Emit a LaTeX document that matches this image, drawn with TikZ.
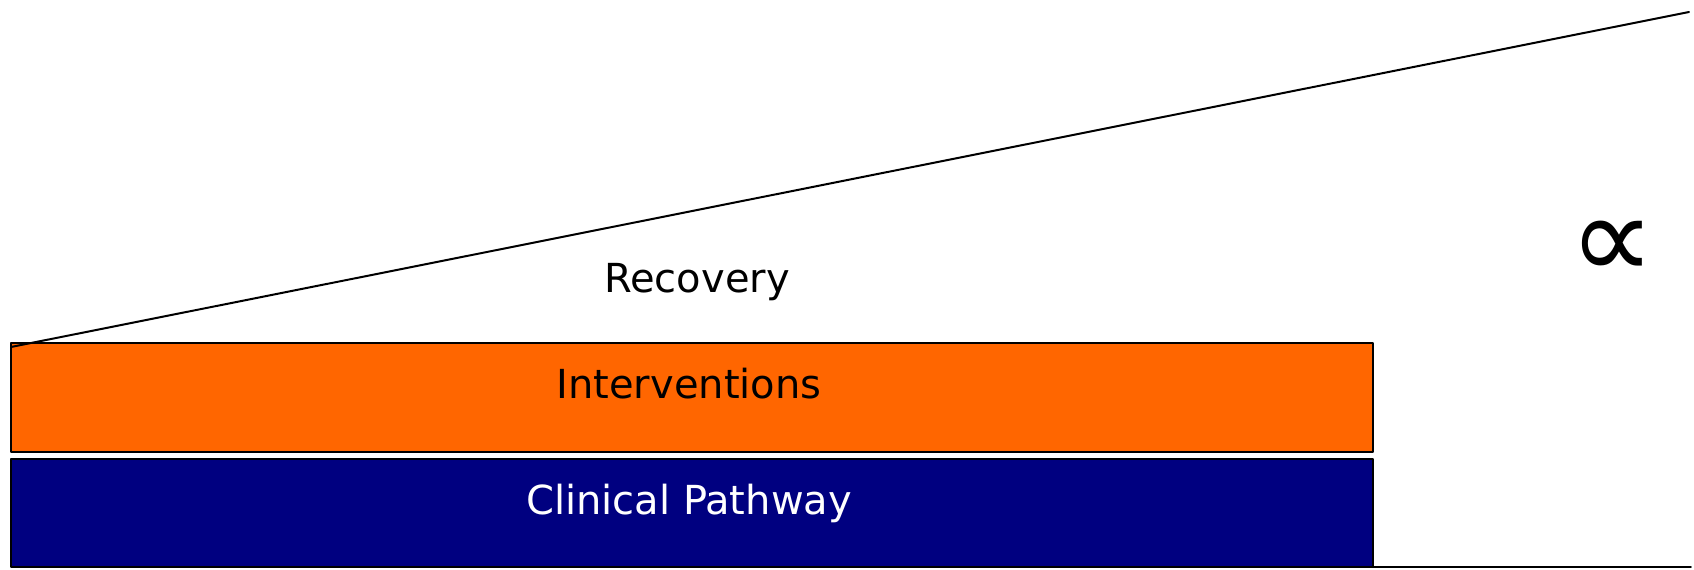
\documentclass[tikz,border=0pt]{standalone}
\usepackage{fontspec}
\setmainfont{DejaVu Sans}
\definecolor{intervorange}{RGB}{255,102,0}
\definecolor{pathwayblue}{RGB}{0,0,128}
\begin{document}
\begin{tikzpicture}[x=0.25pt, y=-0.25pt, font=\fontsize{10}{12}\selectfont, line join=round, line cap=round]
	\useasboundingbox (0,0) rectangle (1694,569);
	% stacked bars
	\draw[line width=0.45pt, fill=intervorange] (11,343) rectangle (1373,452);
	\draw[line width=0.45pt, fill=pathwayblue] (11,459) rectangle (1373,567);
	\draw[line width=0.45pt] (1373,567)--(1691,567);
	% rising recovery line
	\draw[line width=0.5pt] (11,347)--(1689,12);
	\node (recovery) at (697,282) {Recovery};
	\node (interventions) at (689,384) {Interventions};
	\node[white] (pathway) at (689,503) {Clinical Pathway};
	\node (propto) at (1612,250) {\fontsize{30}{36}\selectfont ∝};
\end{tikzpicture}
\end{document}
